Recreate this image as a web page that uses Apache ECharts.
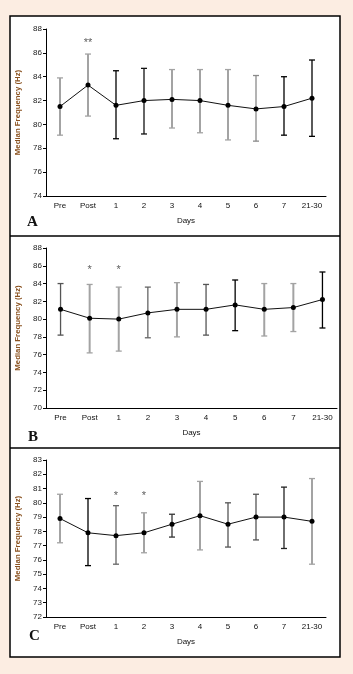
<!DOCTYPE html>
<html lang="en">
  <head>
    <meta charset="UTF-8" />
    <title>Median frequency by day</title>
    <script src="https://cdn.jsdelivr.net/npm/echarts@6/dist/echarts.min.js"></script>
    <style>
      html, body { margin: 0; padding: 0; background: #fcede2; }
      #main { width: 353px; height: 674px; }
    </style>
  </head>
  <body>
    <div id="main"></div>

    <script>
      const days = ['Pre', 'Post', '1', '2', '3', '4', '5', '6', '7', '21-30'];

      const meanA = [81.5, 83.3, 81.6, 82.0, 82.1, 82.0, 81.6, 81.3, 81.5, 82.2];
      const upperA = [83.9, 85.9, 84.5, 84.7, 84.6, 84.6, 84.6, 84.1, 84.0, 85.4];
      const lowerA = [79.1, 80.7, 78.8, 79.2, 79.7, 79.3, 78.7, 78.6, 79.1, 79.0];

      const meanB = [81.1, 80.1, 80.0, 80.7, 81.1, 81.1, 81.6, 81.1, 81.3, 82.2];
      const upperB = [84.0, 83.9, 83.6, 83.6, 84.1, 83.9, 84.4, 84.0, 84.0, 85.3];
      const lowerB = [78.2, 76.2, 76.4, 77.9, 78.0, 78.2, 78.7, 78.1, 78.6, 79.0];

      const meanC = [78.9, 77.9, 77.7, 77.9, 78.5, 79.1, 78.5, 79.0, 79.0, 78.7];
      const upperC = [80.6, 80.3, 79.8, 79.3, 79.2, 81.5, 80.0, 80.6, 81.1, 81.7];
      const lowerC = [77.2, 75.6, 75.7, 76.5, 77.6, 76.7, 76.9, 77.4, 76.8, 75.7];

      // significance marks: day, height, text
      const starsA = [['Post', 86.85, '**']];
      const starsB = [['Post', 85.5, '*'], ['1', 85.5, '*']];
      const starsC = [['1', 80.45, '*'], ['2', 80.45, '*']];

      // the original mixes grey and black whiskers
      const g = '#a3a3a3';
      const whiskerColors = [
        [g, g, '#000', '#111', g, g, g, '#8a8a8a', '#000', '#000'],
        ['#555', g, g, '#666', g, '#555', '#000', g, g, '#000'],
        [g, '#000', '#666', g, '#333', g, '#555', '#555', '#222', g],
      ];

      const panels = [
        { mean: meanA, upper: upperA, lower: lowerA, stars: starsA, min: 74, max: 88, step: 2,
          grid: { left: 46, top: 29, width: 280, height: 167 } },
        { mean: meanB, upper: upperB, lower: lowerB, stars: starsB, min: 70, max: 88, step: 2,
          grid: { left: 46, top: 248, width: 291, height: 160 } },
        { mean: meanC, upper: upperC, lower: lowerC, stars: starsC, min: 72, max: 83, step: 1,
          grid: { left: 46, top: 460, width: 280, height: 157 } },
      ];

      const font = '"Liberation Sans", Arial, sans-serif';
      const grid = [], xAxis = [], yAxis = [], series = [];

      panels.forEach((p, i) => {
        grid.push(p.grid);
        xAxis.push({
          type: 'category',
          gridIndex: i,
          data: days,
          name: 'Days',
          nameLocation: 'middle',
          nameGap: 21,
          nameTextStyle: { fontSize: 8, color: '#111', fontFamily: font },
          axisLine: { lineStyle: { color: '#000', width: 1 } },
          axisTick: { length: 3, lineStyle: { color: '#000' } },
          axisLabel: { fontSize: 8, color: '#111', fontFamily: font, margin: 6 },
        });
        yAxis.push({
          type: 'value',
          gridIndex: i,
          min: p.min,
          max: p.max,
          interval: p.step,
          name: 'Median Frequency (Hz)',
          nameLocation: 'middle',
          nameGap: 22,
          nameTextStyle: { fontSize: 7.8, color: '#8a5220', fontFamily: font, fontWeight: 'bold' },
          axisLine: { show: true, lineStyle: { color: '#000', width: 1 } },
          axisTick: { show: true, length: 3, lineStyle: { color: '#000' } },
          axisLabel: { fontSize: 8, color: '#222', fontFamily: font, margin: 4 },
          splitLine: { show: false },
        });

        const colors = whiskerColors[i];
        series.push({
          type: 'custom',
          xAxisIndex: i,
          yAxisIndex: i,
          data: days.map((d, k) => [k, p.lower[k], p.upper[k]]),
          renderItem: function (params, api) {
            const x = api.value(0);
            const lo = api.coord([x, api.value(1)]);
            const hi = api.coord([x, api.value(2)]);
            const c = colors[params.dataIndex];
            const w = c === g ? 2 : 1.3;
            const half = 3;
            return {
              type: 'group',
              children: [
                { type: 'line', shape: { x1: lo[0], y1: lo[1], x2: hi[0], y2: hi[1] }, style: { stroke: c, lineWidth: w } },
                { type: 'line', shape: { x1: lo[0] - half, y1: lo[1], x2: lo[0] + half, y2: lo[1] }, style: { stroke: c, lineWidth: 1.3 } },
                { type: 'line', shape: { x1: hi[0] - half, y1: hi[1], x2: hi[0] + half, y2: hi[1] }, style: { stroke: c, lineWidth: 1.3 } },
              ],
            };
          },
          z: 2,
        });
        series.push({
          type: 'line',
          xAxisIndex: i,
          yAxisIndex: i,
          data: p.mean,
          symbol: 'circle',
          symbolSize: 5,
          itemStyle: { color: '#000' },
          lineStyle: { color: '#111', width: 1 },
          z: 3,
        });
        series.push({
          type: 'scatter',
          xAxisIndex: i,
          yAxisIndex: i,
          data: p.stars.map((s) => [s[0], s[1], s[2]]),
          symbolSize: 0,
          label: {
            show: true,
            position: 'inside',
            formatter: (o) => o.data[2],
            fontSize: 11,
            color: '#333',
            fontFamily: font,
          },
          silent: true,
        });
      });

      const letter = (txt, x, y) => ({
        type: 'text',
        left: x,
        top: y,
        style: { text: txt, font: 'bold 15px "Liberation Serif", serif', fill: '#111' },
      });

      const options = {
        backgroundColor: '#fcede2',
        animation: false,
        graphic: [
          { type: 'rect', shape: { x: 10, y: 16, width: 330, height: 641 },
            style: { fill: '#fff', stroke: '#000', lineWidth: 1.5 }, z: -10 },
          { type: 'line', shape: { x1: 10, y1: 236, x2: 340, y2: 236 }, style: { stroke: '#000', lineWidth: 1.5 }, z: -9 },
          { type: 'line', shape: { x1: 10, y1: 448, x2: 340, y2: 448 }, style: { stroke: '#000', lineWidth: 1.5 }, z: -9 },
          letter('A', 27, 215),
          letter('B', 28, 430),
          letter('C', 29, 629),
        ],
        grid: grid,
        xAxis: xAxis,
        yAxis: yAxis,
        series: series,
      };

      var myChart = echarts.init(document.querySelector('#main'));
      myChart.setOption(options);
    </script>
  </body>
</html>
